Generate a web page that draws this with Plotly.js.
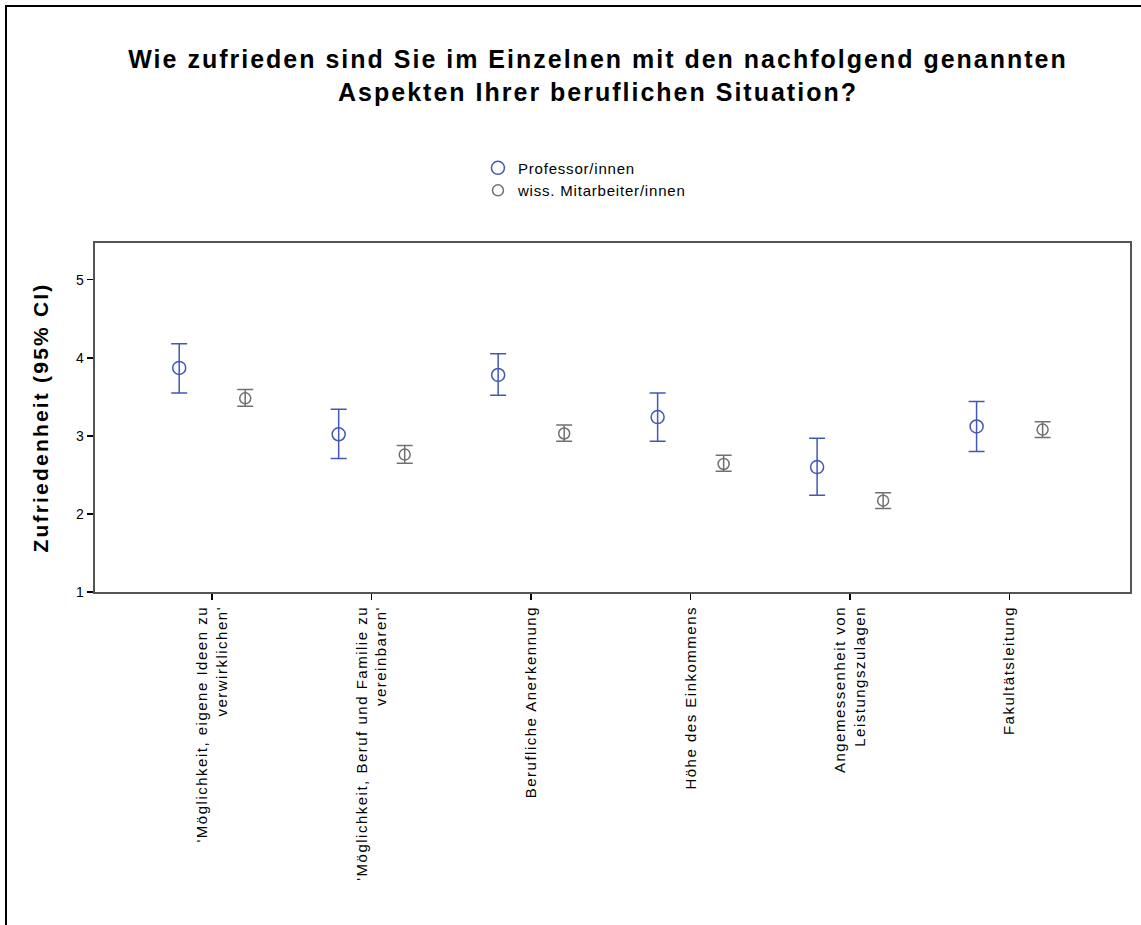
<!DOCTYPE html>
<html>
<head>
<meta charset="utf-8">
<script src="https://cdn.plot.ly/plotly-3.0.1.min.js"></script>
<style>
  html, body { margin: 0; padding: 0; background: #fff; overflow: hidden; }
  #chart { position: absolute; left: 0; top: 0; width: 1141px; height: 925px; }
  #frame { position: absolute; left: 5px; top: 5px; width: 1300px; height: 1100px;
           border-left: 2px solid #000; border-top: 2px solid #000; pointer-events: none; }
  .gtitle { letter-spacing: 2px; }
  .ytitle { letter-spacing: 2.2px; }
  .xtick text { letter-spacing: 1.5px; }
  .ytick text { letter-spacing: 0.5px; }
  .legendtext { letter-spacing: 0.8px; }
</style>
</head>
<body>
<div id="chart"></div>
<div id="frame"></div>
<script>
// Chart title (two lines)
const titleLine1 = 'Wie zufrieden sind Sie im Einzelnen mit den nachfolgend genannten';
const titleLine2 = 'Aspekten Ihrer beruflichen Situation?';

// Categories (x tick labels)
const categories = [
  "'Möglichkeit, eigene Ideen zu<br>verwirklichen'",
  "'Möglichkeit, Beruf und Familie zu<br>vereinbaren'",
  "Berufliche Anerkennung",
  "Höhe des Einkommens",
  "Angemessenheit von<br>Leistungszulagen",
  "Fakultätsleitung"
];
const categoryIndex = [0, 1, 2, 3, 4, 5];

// Professor/innen: mean and 95% CI bounds
const profMean  = [3.87, 3.02, 3.78, 3.24, 2.60, 3.12];
const profLower = [3.55, 2.71, 3.52, 2.93, 2.24, 2.80];
const profUpper = [4.18, 3.34, 4.05, 3.55, 2.97, 3.44];

// wiss. Mitarbeiter/innen: mean and 95% CI bounds
const wissMean  = [3.48, 2.76, 3.03, 2.64, 2.17, 3.08];
const wissLower = [3.38, 2.65, 2.93, 2.545, 2.07, 2.98];
const wissUpper = [3.595, 2.875, 3.14, 2.75, 2.27, 3.18];

const yTicks = [1, 2, 3, 4, 5];

const groupOffset = 0.207;
const profColor = '#4257b8';
const wissColor = '#707070';

function trace(name, mean, lower, upper, shift, color, size) {
  return {
    type: 'scatter', mode: 'markers', name: name,
    x: categoryIndex.map(i => i + shift),
    y: mean,
    marker: { symbol: 'circle-open', size: size, color: color, line: { width: 1.5, color: color } },
    error_y: {
      type: 'data', symmetric: false,
      array: upper.map((u, i) => u - mean[i]),
      arrayminus: mean.map((m, i) => m - lower[i]),
      color: color, thickness: 1.5, width: 8
    },
    hoverinfo: 'x+y'
  };
}

const data = [
  trace('Professor/innen', profMean, profLower, profUpper, -groupOffset, profColor, 13),
  trace('wiss. Mitarbeiter/innen', wissMean, wissLower, wissUpper, groupOffset, wissColor, 11)
];

const FONT = 'Liberation Sans, Arial, sans-serif';

const layout = {
  width: 1141, height: 925,
  margin: { l: 95, r: 11, t: 243, b: 333 },
  paper_bgcolor: '#fff', plot_bgcolor: '#fff',
  font: { family: FONT, color: '#000', size: 14 },
  title: {
    text: '<b>' + titleLine1 + '<br>' + titleLine2 + '</b>',
    font: { size: 25, family: FONT, color: '#000' },
    x: 598 / 1141, xanchor: 'center', xref: 'container',
    y: 1 - 68 / 925, yanchor: 'top', yref: 'container'
  },
  showlegend: true,
  legend: {
    x: 0.370, xanchor: 'left', y: 1.262, yanchor: 'top',
    font: { size: 15, color: '#000' },
    bgcolor: 'rgba(0,0,0,0)', tracegroupgap: 0
  },
  xaxis: {
    range: [-0.735, 5.755],
    tickmode: 'array', tickvals: categoryIndex, ticktext: categories,
    tickangle: -90, ticks: 'outside', ticklen: 6, tickcolor: '#000', tickwidth: 1.5,
    showgrid: false, zeroline: false,
    showline: true, linecolor: '#555', linewidth: 2, mirror: true,
    tickfont: { size: 15, color: '#000' }
  },
  yaxis: {
    range: [1, 5.47],
    tickmode: 'array', tickvals: yTicks,
    ticks: 'outside', ticklen: 6, tickcolor: '#000', tickwidth: 1.5,
    showgrid: false, zeroline: false,
    showline: true, linecolor: '#555', linewidth: 2, mirror: true,
    tickfont: { size: 14, color: '#000' },
    title: { text: '<b>Zufriedenheit (95% CI)</b>', font: { size: 21, color: '#000' }, standoff: 22 }
  }
};

Plotly.newPlot('chart', data, layout, { displayModeBar: false, staticPlot: true });
</script>
</body>
</html>
